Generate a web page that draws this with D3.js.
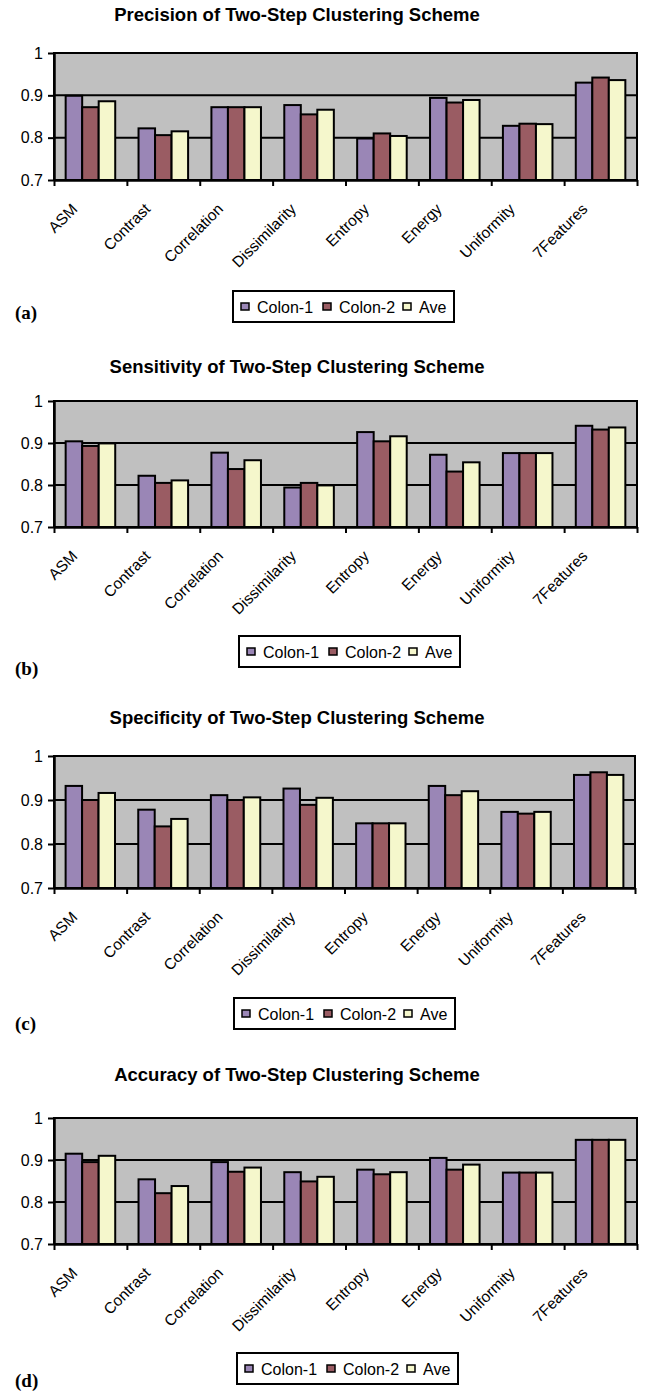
<!DOCTYPE html>
<html>
<head>
<meta charset="utf-8">
<script src="https://cdn.jsdelivr.net/npm/d3@7"></script>
<style>
  body { margin: 0; background: #fff; }
  svg { display: block; }
  text { font-family: Arial, "Liberation Sans", sans-serif; }
</style>
</head>
<body>
<div id="chart"></div>
<script>
// categories and series
var categories = ["ASM", "Contrast", "Correlation", "Dissimilarity", "Entropy", "Energy", "Uniformity", "7Features"];
var seriesNames = ["Colon-1", "Colon-2", "Ave"];
var yTicks = [0.7, 0.8, 0.9, 1];

// (a) precision
var precisionColon1 = [0.899, 0.822, 0.872, 0.877, 0.798, 0.894, 0.828, 0.930];
var precisionColon2 = [0.872, 0.806, 0.872, 0.855, 0.810, 0.883, 0.833, 0.942];
var precisionAve    = [0.886, 0.815, 0.872, 0.866, 0.804, 0.889, 0.832, 0.936];

// (b) sensitivity
var sensitivityColon1 = [0.904, 0.822, 0.877, 0.794, 0.926, 0.872, 0.876, 0.941];
var sensitivityColon2 = [0.893, 0.805, 0.838, 0.805, 0.904, 0.832, 0.876, 0.932];
var sensitivityAve    = [0.899, 0.811, 0.859, 0.799, 0.916, 0.854, 0.876, 0.937];

// (c) specificity
var specificityColon1 = [0.932, 0.878, 0.911, 0.926, 0.847, 0.932, 0.873, 0.957];
var specificityColon2 = [0.900, 0.840, 0.900, 0.889, 0.847, 0.911, 0.869, 0.963];
var specificityAve    = [0.916, 0.857, 0.906, 0.905, 0.847, 0.920, 0.873, 0.957];

// (d) accuracy
var accuracyColon1 = [0.915, 0.854, 0.895, 0.871, 0.877, 0.905, 0.870, 0.948];
var accuracyColon2 = [0.895, 0.821, 0.872, 0.849, 0.866, 0.877, 0.870, 0.948];
var accuracyAve    = [0.910, 0.838, 0.882, 0.860, 0.871, 0.889, 0.870, 0.948];

var colors = ["#9a86b6", "#9a5c63", "#f5f7cc"];

// one entry per panel: title, series and where it sits on the page
var panels = [
    { label: "(a)", title: "Precision of Two-Step Clustering Scheme",
      series: [precisionColon1, precisionColon2, precisionAve],
      titleY: 15, top: 53, bottom: 180, right: 637, legendX: 233, legendY: 291, labelY: 312 },
    { label: "(b)", title: "Sensitivity of Two-Step Clustering Scheme",
      series: [sensitivityColon1, sensitivityColon2, sensitivityAve],
      titleY: 367, top: 401, bottom: 527, right: 637, legendX: 239, legendY: 636, labelY: 668 },
    { label: "(c)", title: "Specificity of Two-Step Clustering Scheme",
      series: [specificityColon1, specificityColon2, specificityAve],
      titleY: 718, top: 756, bottom: 888, right: 635, legendX: 234, legendY: 998, labelY: 1023 },
    { label: "(d)", title: "Accuracy of Two-Step Clustering Scheme",
      series: [accuracyColon1, accuracyColon2, accuracyAve],
      titleY: 1075, top: 1118, bottom: 1244, right: 637, legendX: 237, legendY: 1353, labelY: 1380 }
];

var W = 649, H = 1392;
var left = 54;

var svg = d3.select("#chart").append("svg")
    .attr("width", W)
    .attr("height", H);

panels.forEach(function (p) { drawPanel(p); });

function drawPanel(p) {
    var g = svg.append("g");

    var x = d3.scaleBand()
        .domain(categories)
        .range([left, p.right])
        .paddingInner(0.32)
        .paddingOuter(0.16);
    var xs = d3.scaleBand()
        .domain(d3.range(seriesNames.length))
        .range([0, x.bandwidth()]);
    var y = d3.scaleLinear()
        .domain([0.7, 1])
        .range([p.bottom, p.top]);
    // category boundaries for the x ticks
    var xb = d3.scaleLinear()
        .domain([0, categories.length])
        .range([left, p.right]);

    // title
    g.append("text")
        .attr("x", 297)
        .attr("y", p.titleY)
        .attr("dy", "0.35em")
        .attr("text-anchor", "middle")
        .style("font-weight", "bold")
        .style("font-size", "18.5px")
        .text(p.title);

    // plot background
    g.append("rect")
        .attr("x", left)
        .attr("y", p.top)
        .attr("width", p.right - left)
        .attr("height", p.bottom - p.top)
        .attr("fill", "#c0c0c0")
        .attr("stroke", "#000")
        .attr("stroke-width", 2);

    // gridlines
    g.selectAll(".grid")
        .data(yTicks.slice(1, 3))
        .enter()
        .append("line")
        .attr("x1", left)
        .attr("x2", p.right)
        .attr("y1", function (d) { return y(d); })
        .attr("y2", function (d) { return y(d); })
        .attr("stroke", "#000")
        .attr("stroke-width", 2);

    // bars
    var groups = g.selectAll(".cat")
        .data(categories)
        .enter()
        .append("g")
        .attr("transform", function (c) { return "translate(" + x(c) + ",0)"; });

    groups.selectAll("rect")
        .data(function (c, i) {
            return p.series.map(function (s, k) { return { k: k, v: s[i] }; });
        })
        .enter()
        .append("rect")
        .attr("x", function (d) { return xs(d.k); })
        .attr("y", function (d) { return y(d.v); })
        .attr("width", xs.bandwidth())
        .attr("height", function (d) { return y(0.7) - y(d.v); })
        .attr("fill", function (d) { return colors[d.k]; })
        .attr("stroke", "#000")
        .attr("stroke-width", 2);

    // y axis
    var yAxis = g.append("g")
        .attr("transform", "translate(" + left + ",0)")
        .call(d3.axisLeft(y)
            .tickValues(yTicks)
            .tickSize(6)
            .tickSizeOuter(0)
            .tickPadding(5)
            .tickFormat(function (d) { return d === 1 ? "1" : d.toFixed(1); }));
    yAxis.select(".domain").attr("stroke-width", 2.5);
    yAxis.selectAll(".tick line").attr("stroke-width", 2);
    yAxis.selectAll(".tick text")
        .style("font-size", "16px")
        .style("font-family", "Arial, 'Liberation Sans', sans-serif")
        .attr("fill", "#000");

    // x axis
    var xAxis = g.append("g")
        .attr("transform", "translate(0," + p.bottom + ")")
        .call(d3.axisBottom(xb)
            .tickValues(d3.range(categories.length + 1))
            .tickSize(6)
            .tickSizeOuter(0)
            .tickFormat(""));
    xAxis.select(".domain").attr("stroke-width", 2.5);
    xAxis.selectAll(".tick line").attr("stroke-width", 2);

    // rotated category labels
    g.selectAll(".xlab")
        .data(categories)
        .enter()
        .append("text")
        .attr("transform", function (c) {
            return "translate(" + (x(c) + x.bandwidth() / 2 - 12) + "," + (p.bottom + 30) + ") rotate(-45)";
        })
        .attr("text-anchor", "end")
        .style("font-size", "15.5px")
        .text(function (c) { return c; });

    // legend
    var lg = g.append("g").attr("transform", "translate(" + p.legendX + "," + p.legendY + ")");
    lg.append("rect")
        .attr("width", 221)
        .attr("height", 31)
        .attr("fill", "#fff")
        .attr("stroke", "#000")
        .attr("stroke-width", 2);
    var itemX = [8, 90, 170];
    var items = lg.selectAll(".item")
        .data(seriesNames)
        .enter()
        .append("g")
        .attr("transform", function (d, i) { return "translate(" + itemX[i] + ",0)"; });
    items.append("rect")
        .attr("x", 0)
        .attr("y", 12)
        .attr("width", 8)
        .attr("height", 7)
        .attr("fill", function (d, i) { return colors[i]; })
        .attr("stroke", "#000")
        .attr("stroke-width", 1.5);
    items.append("text")
        .attr("x", 16)
        .attr("y", 16)
        .attr("dy", "0.35em")
        .style("font-size", "16px")
        .text(function (d) { return d; });

    // panel label
    g.append("text")
        .attr("x", 15)
        .attr("y", p.labelY)
        .attr("dy", "0.35em")
        .style("font-family", "'Times New Roman', 'Liberation Serif', serif")
        .style("font-weight", "bold")
        .style("font-size", "19px")
        .text(p.label);
}
</script>
</body>
</html>
